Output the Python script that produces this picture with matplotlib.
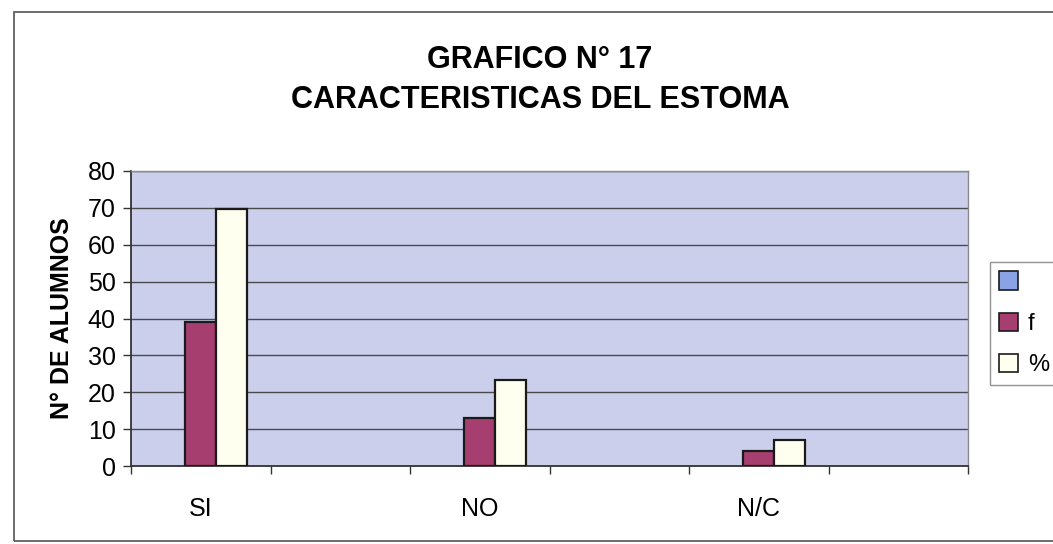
import numpy as np
import matplotlib
matplotlib.use("Agg")
import matplotlib.pyplot as plt
from matplotlib.patches import Rectangle, Patch

categories = ["SI", "", "NO", "", "N/C", ""]
series_names = [" ", "f", "%"]
blank_vals = [np.nan, np.nan, np.nan, np.nan, np.nan, np.nan]
f_vals = [39, np.nan, 13, np.nan, 4, np.nan]
pct_vals = [69.6, np.nan, 23.2, np.nan, 7.1, np.nan]
y_ticks = [0, 10, 20, 30, 40, 50, 60, 70, 80]

title = "GRAFICO N° 17\nCARACTERISTICAS DEL ESTOMA"
ylabel = "N° DE ALUMNOS"

plt.rcParams['font.family'] = ['Liberation Sans', 'DejaVu Sans']

W, H = 1053, 544
fig = plt.figure(figsize=(W / 100, H / 100), dpi=100)
fig.patch.set_facecolor("white")

# outer chart border
fig.patches.append(Rectangle((14 / W, 1 - 541 / H), 1.2, (541 - 12) / H,
                             transform=fig.transFigure, fill=False,
                             edgecolor="#555555", linewidth=1.2))

left, right, top, bottom = 131, 968, 171, 466
ax = fig.add_axes([left / W, 1 - bottom / H, (right - left) / W, (bottom - top) / H])
ax.set_facecolor("#CBCFEC")

x = np.arange(len(categories))
w = 1 / 4.5
colors = ["#8AA2E6", "#A63E70", "#FFFFF0"]
for i, (vals, c) in enumerate(zip([blank_vals, f_vals, pct_vals], colors)):
    ax.bar(x + (i - 1) * w, vals, width=w, color=c, edgecolor="#1a1a1a",
           linewidth=1.6, zorder=3)

ax.set_xlim(-0.5, len(categories) - 0.5)
ax.set_ylim(0, 80)
ax.set_yticks(y_ticks)
ax.set_yticklabels([str(v) for v in y_ticks], fontsize=18)
ax.yaxis.grid(True, color="#4a4a4a", linewidth=1.0, zorder=1)
ax.tick_params(axis="y", direction="out", length=6, width=1, pad=5, color="#333333")

ax.set_xticks(x)
ax.set_xticklabels(categories, fontsize=18)
ax.tick_params(axis="x", which="major", length=0, pad=22)
ax.set_xticks(np.arange(len(categories) + 1) - 0.5, minor=True)
ax.tick_params(axis="x", which="minor", direction="out", length=6, width=1, color="#333333")

for s in ["top", "right"]:
    ax.spines[s].set_color("#8a8a8a")
    ax.spines[s].set_linewidth(1.0)
for s in ["left", "bottom"]:
    ax.spines[s].set_color("#333333")
    ax.spines[s].set_linewidth(1.3)

fig.text(540 / W, 1 - 80 / H, title, ha="center", va="center", fontsize=22,
         fontweight="bold", linespacing=1.4)
fig.text(62 / W, 1 - 318 / H, ylabel, ha="center", va="center", fontsize=18,
         fontweight="bold", rotation=90)

handles = [Patch(facecolor=c, edgecolor="#1a1a1a", linewidth=1.2) for c in colors]
leg = ax.legend(handles, series_names, loc="upper left",
                bbox_to_anchor=(990 / W, 1 - 262 / H), bbox_transform=fig.transFigure,
                fontsize=17, frameon=True, fancybox=False, edgecolor="#777777",
                handlelength=0.8, handleheight=0.8, handletextpad=0.4,
                labelspacing=0.8, borderpad=0.4, borderaxespad=0)
leg.get_frame().set_linewidth(1.0)

fig.savefig("out.png", dpi=100)
